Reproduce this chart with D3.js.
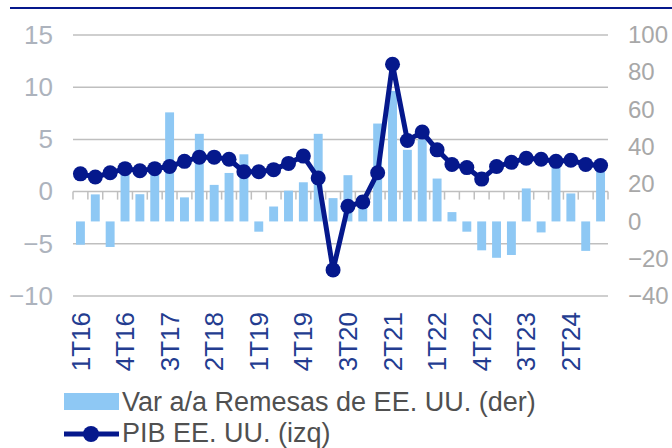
<!DOCTYPE html>
<html lang="es">
<head>
    <meta charset="UTF-8">
    <script src="https://d3js.org/d3.v7.min.js"></script>
    <style>
        body { margin: 0; background: #fff; font-family: "Liberation Sans", Arial, sans-serif; }
        svg text { font-family: "Liberation Sans", Arial, sans-serif; }
    </style>
</head>
<body>
    <svg id="chart" width="672" height="448"></svg>

    <script>
        // trimestres 1T16 .. 4T24
        const quarters = [
            "1T16", "2T16", "3T16", "4T16", "1T17", "2T17", "3T17", "4T17",
            "1T18", "2T18", "3T18", "4T18", "1T19", "2T19", "3T19", "4T19",
            "1T20", "2T20", "3T20", "4T20", "1T21", "2T21", "3T21", "4T21",
            "1T22", "2T22", "3T22", "4T22", "1T23", "2T23", "3T23", "4T23",
            "1T24", "2T24", "3T24", "4T24"
        ];
        // PIB EE. UU. (izq), var % a/a
        const pib = [
            1.7, 1.4, 1.8, 2.2, 2.0, 2.2, 2.4, 2.9,
            3.3, 3.3, 3.1, 1.9, 1.9, 2.1, 2.7, 3.4,
            1.3, -7.5, -1.4, -1.0, 1.8, 12.2, 4.9, 5.7,
            4.0, 2.6, 2.3, 1.2, 2.4, 2.8, 3.2, 3.1,
            2.9, 3.0, 2.6, 2.5
        ];
        // Var a/a Remesas de EE. UU. (der)
        const remesas = [
            -12.5, 14.5, -13.7, 25, 14.6, 25, 58.5, 12.9,
            47, 19.6, 26, 36, -5.5, 8, 16.5, 21,
            47, 12.5, 24.8, 14, 52.5, 70, 38.4, 44,
            23, 5, -5.5, -15.5, -19.5, -18, 17.7, -5.9,
            30, 15, -15.8, 27
        ];
        const leftTicks = [-10, -5, 0, 5, 10, 15];
        const rightTicks = [-40, -20, 0, 20, 40, 60, 80, 100];
        const shownLabels = quarters.filter((d, i) => i % 3 === 0);

        const navy = "#05188c";
        const barColor = "#8ec8f4";
        const gridColor = "#bfbfbf";

        const svg = d3.select("#chart");
        const plot = { left: 73, right: 608, top: 35, bottom: 296 };

        const x = d3.scaleBand()
            .domain(quarters)
            .range([plot.left, plot.right])
            .paddingInner(0.4)
            .paddingOuter(0.2);
        const yL = d3.scaleLinear().domain([-10, 15]).range([plot.bottom, plot.top]);
        const yR = d3.scaleLinear().domain([-40, 100]).range([plot.bottom, plot.top]);

        const data = quarters.map((q, i) => ({ q, pib: pib[i], rem: remesas[i] }));

        // linea azul superior
        svg.append("line")
            .attr("x1", 10).attr("x2", 672)
            .attr("y1", 8).attr("y2", 8)
            .attr("stroke", navy)
            .attr("stroke-width", 2);

        // rejilla (eje izquierdo)
        svg.append("g")
            .selectAll("line")
            .data(leftTicks)
            .join("line")
            .attr("x1", plot.left).attr("x2", plot.right)
            .attr("y1", d => yL(d)).attr("y2", d => yL(d))
            .attr("stroke", gridColor)
            .attr("stroke-width", 1.5);

        // marcas del eje X en los limites de cada trimestre
        const bounds = quarters.map(q => x(q) - (x.step() - x.bandwidth()) / 2);
        bounds.push(plot.right);
        svg.append("g")
            .selectAll("line")
            .data(bounds)
            .join("line")
            .attr("x1", d => d).attr("x2", d => d)
            .attr("y1", yL(0)).attr("y2", yL(0) + 8)
            .attr("stroke", gridColor)
            .attr("stroke-width", 1.5);

        // barras remesas (eje derecho)
        svg.append("g")
            .selectAll("rect")
            .data(data)
            .join("rect")
            .attr("x", d => x(d.q))
            .attr("width", x.bandwidth())
            .attr("y", d => yR(Math.max(0, d.rem)))
            .attr("height", d => Math.abs(yR(d.rem) - yR(0)))
            .attr("fill", barColor);

        // linea PIB (eje izquierdo)
        const line = d3.line()
            .x(d => x(d.q) + x.bandwidth() / 2)
            .y(d => yL(d.pib));

        svg.append("path")
            .datum(data)
            .attr("d", line)
            .attr("fill", "none")
            .attr("stroke", navy)
            .attr("stroke-width", 5)
            .attr("stroke-linejoin", "round");

        svg.append("g")
            .selectAll("circle")
            .data(data)
            .join("circle")
            .attr("cx", d => x(d.q) + x.bandwidth() / 2)
            .attr("cy", d => yL(d.pib))
            .attr("r", 7.5)
            .attr("fill", navy);

        // etiquetas eje izquierdo
        const axLeft = svg.append("g")
            .attr("transform", `translate(${plot.left - 20},0)`)
            .call(d3.axisLeft(yL).tickValues(leftTicks).tickSize(0).tickPadding(0));
        axLeft.select(".domain").remove();
        axLeft.selectAll("text")
            .style("font-size", "26px")
            .attr("fill", "#adb3bd");

        // etiquetas eje derecho
        const axRight = svg.append("g")
            .attr("transform", `translate(${plot.right + 20},0)`)
            .call(d3.axisRight(yR).tickValues(rightTicks).tickSize(0).tickPadding(0));
        axRight.select(".domain").remove();
        axRight.selectAll("text")
            .style("font-size", "24px")
            .attr("fill", "#a8a8a8");

        // etiquetas eje X (verticales)
        const axBottom = svg.append("g")
            .attr("transform", `translate(0,${plot.bottom + 10})`)
            .call(d3.axisBottom(x).tickValues(shownLabels).tickSize(0));
        axBottom.select(".domain").remove();
        axBottom.selectAll("text")
            .attr("transform", "rotate(-90)")
            .attr("x", -6)
            .attr("y", 0)
            .attr("dy", "0.35em")
            .style("text-anchor", "end")
            .style("font-size", "26px")
            .attr("fill", "#233c90");

        // leyenda
        const legend = svg.append("g");
        legend.append("rect")
            .attr("x", 64).attr("y", 393)
            .attr("width", 55).attr("height", 17)
            .attr("fill", barColor);
        legend.append("text")
            .attr("x", 122).attr("y", 411)
            .style("font-size", "27px")
            .attr("fill", "#505050")
            .text("Var a/a Remesas de EE. UU. (der)");

        legend.append("line")
            .attr("x1", 64).attr("x2", 119)
            .attr("y1", 434).attr("y2", 434)
            .attr("stroke", navy)
            .attr("stroke-width", 5);
        legend.append("circle")
            .attr("cx", 91).attr("cy", 434)
            .attr("r", 8)
            .attr("fill", navy);
        legend.append("text")
            .attr("x", 122).attr("y", 442)
            .style("font-size", "27px")
            .attr("fill", "#505050")
            .text("PIB EE. UU. (izq)");
    </script>
</body>
</html>
